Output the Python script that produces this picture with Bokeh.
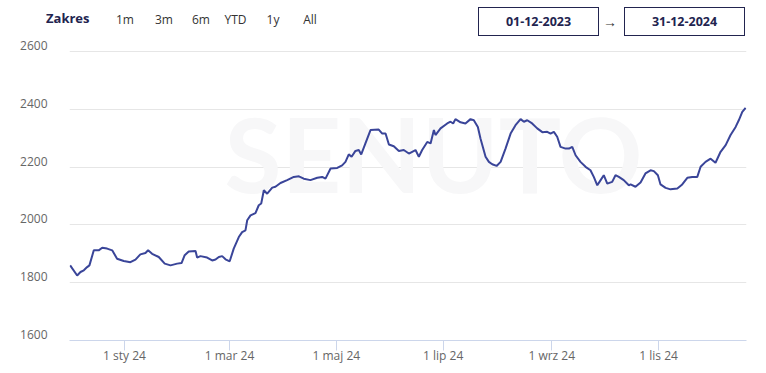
import pandas as pd
from bokeh.plotting import figure
from bokeh.models import FixedTicker, Label, Div, LinearAxis, Range1d
from bokeh.layouts import column
from bokeh.embed import file_html
from bokeh.resources import INLINE

# ---------------- data ----------------
start_date = "2023-12-01"
# day offsets from start_date and the series values
day_offsets = [0.0, 4.0, 5.9, 7.8, 9.7, 11.0, 13.5, 16.3, 18.3, 21.1, 24.0, 26.8, 30.6,
               34.4, 37.3, 40.1, 43.0, 44.5, 46.8, 50.6, 54.0, 57.3, 61.1, 63.6, 65.4,
               67.7, 71.6, 72.5, 74.4, 78.2, 81.1, 83.0, 84.9, 86.8, 88.7, 91.1, 93.4,
               96.3, 98.2, 100.1, 101.1, 103.0, 105.8, 107.7, 109.1, 110.6, 112.5, 115.4,
               117.2, 120.1, 123.9, 127.7, 130.6, 133.4, 137.2, 141.1, 143.9, 145.8, 148.7,
               152.5, 155.3, 157.2, 159.1, 160.7, 162.9, 164.8, 166.2, 168.6, 171.5, 176.2,
               178.2, 180.1, 182.0, 184.8, 187.7, 190.5, 193.4, 197.2, 199.1, 201.0, 203.9,
               205.8, 207.7, 208.6, 211.5, 215.3, 217.2, 218.7, 220.0, 222.9, 225.7, 228.6,
               230.5, 232.8, 234.3, 237.2, 239.1, 241.0, 243.5, 245.8, 248.6, 251.5, 254.3,
               257.2, 259.1, 261.0, 263.8, 266.7, 269.6, 272.4, 274.3, 276.2, 278.1, 280.0,
               282.9, 284.8, 286.7, 288.6, 291.4, 294.3, 297.1, 299.0, 301.0, 302.9, 304.7,
               306.7, 309.5, 311.4, 313.3, 316.1, 319.0, 320.0, 322.8, 325.7, 328.5, 331.4,
               333.3, 335.6, 337.1, 340.0, 342.8, 346.7, 349.5, 352.4, 355.2, 358.1, 360.0,
               362.8, 365.7, 368.5, 371.4, 374.3, 377.1, 380.0, 381.8, 383.8, 385.7]
values = [1860, 1825, 1837, 1843, 1854, 1860, 1912, 1912, 1921, 1918, 1912, 1883, 1875,
          1871, 1880, 1898, 1903, 1912, 1900, 1889, 1866, 1860, 1866, 1868, 1895,
          1908, 1910, 1887, 1892, 1887, 1877, 1880, 1889, 1892, 1881, 1874, 1918,
          1958, 1975, 1981, 2016, 2033, 2041, 2068, 2074, 2120, 2108, 2129,
          2132, 2145, 2155, 2166, 2168, 2160, 2155, 2163, 2166, 2160, 2195,
          2197, 2206, 2218, 2244, 2236, 2256, 2259, 2244, 2282, 2328, 2330,
          2316, 2316, 2278, 2272, 2256, 2259, 2247, 2259, 2236, 2259, 2287,
          2282, 2328, 2311, 2334, 2351, 2357, 2351, 2366, 2355, 2351, 2366,
          2362, 2339, 2299, 2236, 2218, 2210, 2204, 2218, 2264, 2316, 2345,
          2366, 2357, 2362, 2351, 2334, 2321, 2322, 2316, 2322, 2305, 2270,
          2264, 2264, 2270, 2241, 2218, 2201, 2189, 2166, 2137, 2155, 2172,
          2143, 2149, 2172, 2166, 2155, 2137, 2140, 2132, 2147, 2178, 2189,
          2186, 2172, 2140, 2128, 2123, 2126, 2140, 2163, 2166, 2166, 2201,
          2218, 2229, 2215, 2253, 2276, 2311, 2339, 2362, 2391, 2405]

x_tick_dates = ["2024-01-01", "2024-03-01", "2024-05-01", "2024-07-01", "2024-09-01", "2024-11-01"]
x_tick_labels = ["1 sty 24", "1 mar 24", "1 maj 24", "1 lip 24", "1 wrz 24", "1 lis 24"]
y_ticks = [1600, 1800, 2000, 2200, 2400, 2600]

range_label = "Zakres"
range_buttons = ["1m", "3m", "6m", "YTD", "1y", "All"]
date_from = "01-12-2023"
date_to = "31-12-2024"

# ---------------- build ----------------
t0 = pd.Timestamp(start_date)
dates = t0 + pd.to_timedelta(day_offsets, unit="D")

FONT = "Open Sans"
NAVY = "#22244f"
HEADER_H = 36

# frame: 300 px tall; 1600..2600 spans the lower 289 px, 11 px of headroom above
u_per_px = (y_ticks[-1] - y_ticks[0]) / 289.0
y_lo, y_hi = y_ticks[0], y_ticks[-1] + 11 * u_per_px
shift = 6 * u_per_px  # y labels sit 6 px above their grid lines

p = figure(width=766, height=373 - HEADER_H, x_axis_type="datetime",
           x_range=(t0 - pd.Timedelta(hours=9), t0 + pd.Timedelta(days=386.2)),
           y_range=Range1d(y_lo, y_hi),
           output_backend="svg", toolbar_location=None,
           min_border_left=69, min_border_right=20, min_border_top=40 - HEADER_H,
           min_border_bottom=33)
p.outline_line_color = None
p.background_fill_color = "white"
p.border_fill_color = "white"
p.extra_y_ranges = {"lab": Range1d(y_lo - shift, y_hi - shift)}

wm = Label(x=364, y=188, x_units="screen", y_units="screen", text="SENUTO",
           text_font="Lato", text_font_style="bold", text_font_size="104px",
           text_color="#f7f7f8", text_align="center", text_baseline="middle",
           level="underlay")
p.add_layout(wm)

p.line(dates, values, line_color="#3a4599", line_width=2)

tick_ms = [float(pd.Timestamp(d).value // 10**6) for d in x_tick_dates]
p.xaxis.ticker = FixedTicker(ticks=tick_ms)
p.xaxis.major_label_overrides = {t: l for t, l in zip(tick_ms, x_tick_labels)}
p.xaxis.minor_tick_line_color = None
p.xaxis.major_tick_in = 0
p.xaxis.major_tick_out = 10
p.xaxis.major_tick_line_color = "#ccd6eb"
p.xaxis.axis_line_color = "#ccd6eb"
p.xaxis.major_label_standoff = -4
p.xaxis.major_label_text_font = FONT
p.xaxis.major_label_text_font_size = "12px"
p.xaxis.major_label_text_color = "#666666"
p.xgrid.grid_line_color = None

p.yaxis.visible = False
p.ygrid.grid_line_color = "#e6e6e6"
p.ygrid.ticker = FixedTicker(ticks=y_ticks)

yax = LinearAxis(y_range_name="lab", ticker=FixedTicker(ticks=y_ticks))
yax.axis_line_color = None
yax.major_tick_line_color = None
yax.minor_tick_line_color = None
yax.major_label_standoff = 16
yax.major_label_text_font = FONT
yax.major_label_text_font_size = "12px"
yax.major_label_text_color = "#666666"
p.add_layout(yax, "left")

# ---------------- header ----------------
btn_centers = [125, 164, 201, 235.5, 273, 310]
parts = [f'<div style="position:relative;width:766px;height:{HEADER_H}px;overflow:hidden;'
         f'font-family:\'{FONT}\',sans-serif;background:white;">']
parts.append(f'<div style="position:absolute;left:46px;top:9px;font-weight:700;font-size:13px;color:{NAVY};">{range_label}</div>')
for b, c in zip(range_buttons, btn_centers):
    parts.append(f'<div style="position:absolute;left:{c-20}px;top:11px;width:40px;text-align:center;font-size:12px;color:#333333;">{b}</div>')
box = ('position:absolute;top:7px;width:121px;height:29px;box-sizing:border-box;border:1.5px solid {c};'
       'display:flex;align-items:center;justify-content:center;font-weight:700;font-size:12.5px;color:{c};')
parts.append(f'<div style="{box.format(c=NAVY)}left:478px;">{date_from}</div>')
parts.append(f'<div style="position:absolute;left:603px;top:12px;font-size:14px;color:#333333;">&#8594;</div>')
parts.append(f'<div style="{box.format(c=NAVY)}left:624px;">{date_to}</div>')
parts.append('</div>')
header = Div(text="".join(parts), width=766, height=HEADER_H, margin=0)
p.margin = 0

layout = column(header, p, spacing=0, margin=0)
open("out.html", "w").write(file_html(layout, INLINE))
